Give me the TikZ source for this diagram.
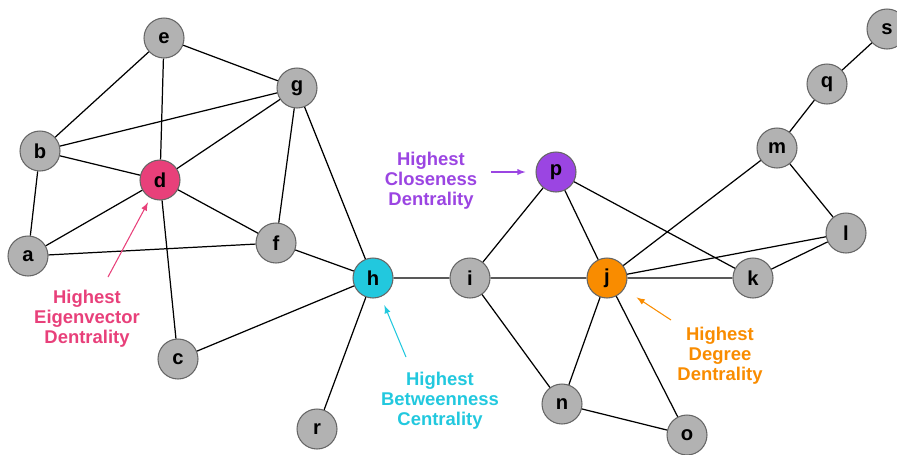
\documentclass[tikz,border=0pt]{standalone}
\usepackage{fontspec}
\setmainfont{Liberation Sans}
\usepackage{xcolor}
\usetikzlibrary{arrows, positioning}

\definecolor{eigpink}{HTML}{E8407A}
\definecolor{betcyan}{HTML}{22C8DE}
\definecolor{clopurple}{HTML}{9B45E2}
\definecolor{degorange}{HTML}{F98C00}

\begin{document}
\begin{tikzpicture}[x=0.02cm, y=-0.02cm,
        vertex/.style={circle, draw=black!60, line width=0.6pt, fill=gray!60, minimum size=0.8cm, inner sep=0pt, font=\fontsize{11.5}{12}\selectfont\bfseries},
        note/.style={align=center, font=\fontsize{10.5}{11.4}\selectfont\bfseries},
        pointer/.style={-latex, line width=0.6pt}]
        \useasboundingbox (0,0) rectangle (897,454);

        % left cluster
        \node (e) [vertex] at (164,38) {e};
        \node (g) [vertex] at (297,88) {g};
        \node (b) [vertex] at (40,151) {b};
        \node (d) [vertex, fill=eigpink] at (160,180) {d};
        \node (a) [vertex] at (28,256) {a};
        \node (f) [vertex] at (276,243) {f};
        \node (c) [vertex] at (178,359) {c};
        \node (h) [vertex, fill=betcyan] at (373,278) {h};
        \node (r) [vertex] at (317,429) {r};

        % right cluster
        \node (i) [vertex] at (470,278) {i};
        \node (p) [vertex, fill=clopurple] at (556,172) {p};
        \node (j) [vertex, fill=degorange] at (607,278) {j};
        \node (k) [vertex] at (753,278) {k};
        \node (n) [vertex] at (562,404) {n};
        \node (o) [vertex] at (687,435) {o};
        \node (m) [vertex] at (777,148) {m};
        \node (l) [vertex] at (846,233) {l};
        \node (q) [vertex] at (827,84) {q};
        \node (s) [vertex] at (887,29) {s};

        \draw[line width=0.7pt] (e) -- (b) (e) -- (d) (e) -- (g);
        \draw[line width=0.7pt] (g) -- (b) (g) -- (d) (g) -- (f) (g) -- (h);
        \draw[line width=0.7pt] (b) -- (d) (b) -- (a);
        \draw[line width=0.7pt] (d) -- (a) (d) -- (f) (d) -- (c);
        \draw[line width=0.7pt] (a) -- (f) (f) -- (h) (c) -- (h) (h) -- (r) (h) -- (i);
        \draw[line width=0.7pt] (i) -- (p) (i) -- (j) (i) -- (n);
        \draw[line width=0.7pt] (p) -- (j) (p) -- (k);
        \draw[line width=0.7pt] (j) -- (k) (j) -- (m) (j) -- (l) (j) -- (n) (j) -- (o);
        \draw[line width=0.7pt] (n) -- (o) (m) -- (l) (m) -- (q) (q) -- (s) (l) -- (k);

        % labels
        \node (EigNote) [note, text=eigpink] at (87,319) {Highest\\Eigenvector\\Dentrality};
        \node (BetNote) [note, text=betcyan] at (440,401) {Highest\\Betweenness\\Centrality};
        \node (CloNote) [note, text=clopurple] at (431,181) {Highest\\Closeness\\Dentrality};
        \node (DegNote) [note, text=degorange] at (720,356) {Highest\\Degree\\Dentrality};

        \coordinate (EigTail) at (108,277);
        \coordinate (BetTail) at (406,357);
        \coordinate (CloTail) at (491,172);
        \coordinate (DegTail) at (671,320);

        \draw[pointer, eigpink, shorten >=1mm] (EigTail) -- (d);
        \draw[pointer, betcyan, shorten >=1.8mm] (BetTail) -- (h);
        \draw[pointer, clopurple, shorten >=2mm] (CloTail) -- (p);
        \draw[pointer, degorange, shorten >=3mm] (DegTail) -- (j);
    \end{tikzpicture}
\end{document}
